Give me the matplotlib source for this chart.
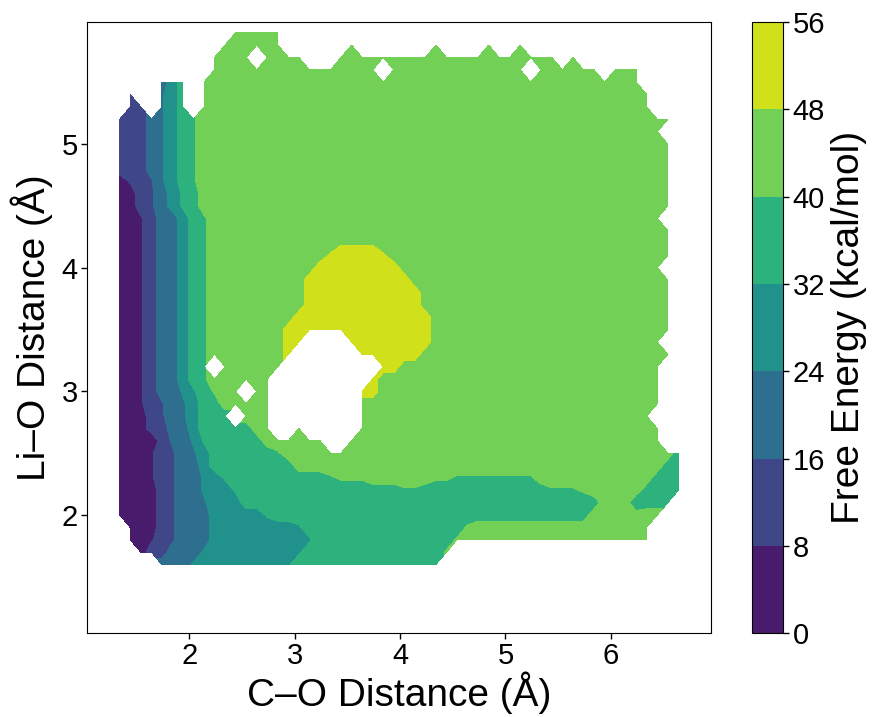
import numpy as np
import matplotlib
matplotlib.use("Agg")
import matplotlib.pyplot as plt

plt.rcParams['font.family'] = ['Liberation Sans', 'DejaVu Sans']

# Grid coordinates (C-O distance columns, Li-O distance rows, top to bottom)
co_distance = [1.34, 1.44, 1.54, 1.64, 1.74, 1.84, 1.94, 2.04, 2.14, 2.24,
               2.34, 2.44, 2.54, 2.64, 2.74, 2.84, 2.94, 3.04, 3.14, 3.24,
               3.34, 3.44, 3.54, 3.64, 3.74, 3.84, 3.94, 4.04, 4.14, 4.24,
               4.34, 4.44, 4.54, 4.64, 4.74, 4.84, 4.94, 5.04, 5.14, 5.24,
               5.34, 5.44, 5.54, 5.64, 5.74, 5.84, 5.94, 6.04, 6.14, 6.24,
               6.34, 6.44, 6.54, 6.64]
li_o_distance = [5.9, 5.8, 5.7, 5.6, 5.5, 5.4, 5.3, 5.2, 5.1, 5.0,
                 4.9, 4.8, 4.7, 4.6, 4.5, 4.4, 4.3, 4.2, 4.1, 4.0,
                 3.9, 3.8, 3.7, 3.6, 3.5, 3.4, 3.3, 3.2, 3.1, 3.0,
                 2.9, 2.8, 2.7, 2.6, 2.5, 2.4, 2.3, 2.2, 2.1, 2.0,
                 1.9, 1.8, 1.7, 1.6]

# Free energy (kcal/mol) read per grid cell; '.' = no data
energy_code = {'A': 1, '0': 4, 'a': 7, 'B': 9, '1': 12, 'b': 15,
               'C': 17, '2': 20, 'c': 23, 'D': 25, '3': 28, 'd': 31,
               'E': 33, '4': 36, 'e': 39, 'F': 41, '5': 44, 'f': 47,
               'G': 49, '6': 52, 'g': 55}

free_energy_rows = [
    ".........." ".55555...." ".........." ".........." ".........." "....",  # 5.9
    ".........." "555555...." "..5......." "5....5..5." ".........." "....",  # 5.8
    ".........5" "555.5555.." ".555555555" "5555555555" "55.5......" "....",  # 5.7
    ".........5" "5555555555" "55555.5555" "555555555." "555555.555" "....",  # 5.6
    ".1..234.55" "5555555555" "5555555555" "5555555555" "5555555555" "....",  # 5.5
    ".1..c34.55" "5555555555" "5555555555" "5555555555" "5555555555" "5...",  # 5.4
    ".11.c34.55" "5555555555" "5555555555" "5555555555" "5555555555" "5...",  # 5.3
    "1112c34e55" "5555555555" "5555555555" "5555555555" "5555555555" "555.",  # 5.2
    "1112c34e55" "5555555555" "5555555555" "5555555555" "5555555555" "55..",  # 5.1
    "1112c34e55" "5555555555" "5555555555" "5555555555" "5555555555" "555.",  # 5.0
    "1112c34e55" "5555555555" "5555555555" "5555555555" "5555555555" "555.",  # 4.9
    "1112c34e55" "5555555555" "5555555555" "5555555555" "5555555555" "555.",  # 4.8
    "0B1bc34e55" "5555555555" "5555555555" "5555555555" "5555555555" "555.",  # 4.7
    "001b23E455" "5555555555" "5555555555" "5555555555" "5555555555" "555.",  # 4.6
    "001b23E455" "5555555555" "5555555555" "5555555555" "5555555555" "555.",  # 4.5
    "00a12234e5" "5555555555" "5555555555" "5555555555" "5555555555" "55..",  # 4.4
    "00a12234e5" "5555555555" "5555555555" "5555555555" "5555555555" "555.",  # 4.3
    "00a12234e5" "5555555555" "5ffff55555" "5555555555" "5555555555" "555.",  # 4.2
    "00a12234e5" "5555555555" "G6666G5555" "5555555555" "5555555555" "555.",  # 4.1
    "00a12234e5" "5555555556" "6666666555" "5555555555" "5555555555" "55..",  # 4.0
    "00a12234e5" "5555555566" "6666666655" "5555555555" "5555555555" "555.",  # 3.9
    "00a12234e5" "5555555566" "6666666665" "5555555555" "5555555555" "555.",  # 3.8
    "00a12234e5" "5555555566" "6666666665" "5555555555" "5555555555" "555.",  # 3.7
    "00a12234e5" "5555555666" "6666666666" "5555555555" "5555555555" "555.",  # 3.6
    "00a12234e5" "5555556666" "6666666666" "5555555555" "5555555555" "555.",  # 3.5
    "00a12234e5" "55555566.." "..66666666" "5555555555" "5555555555" "55..",  # 3.4
    "00a12234e5" "5555556..." "...6666665" "5555555555" "5555555555" "555.",  # 3.3
    "00a12234e." "555555...." ".....66555" "5555555555" "5555555555" "55..",  # 3.2
    "00a12234e5" "55555....." "....655555" "5555555555" "5555555555" "55..",  # 3.1
    "00a122Dd4F" "55.55....." "...6655555" "5555555555" "5555555555" "55..",  # 3.0
    "00a1b2c344" "55555....." "...5555555" "5555555555" "5555555555" "55..",  # 2.9
    "0001b2c344" "4.555....." "...5555555" "5555555555" "5555555555" "5...",  # 2.8
    "0001122344" "44455..5.." "...5555555" "5555555555" "5555555555" "55..",  # 2.7
    "000A1C2DE4" "4444555555" "..55555555" "5555555555" "5555555555" "55..",  # 2.6
    "000a1b2c34" "44444e5555" "5555555555" "5555555555" "5555555555" "5554",  # 2.5
    "000a1b2234" "4444444555" "5555555555" "5555555555" "5555555555" "5544",  # 2.4
    "000a1b22D3" "E444444444" "eFFF555555" "FFeeeeeeee" "5555555555" "5444",  # 2.3
    "00001b22D3" "3E44444444" "4444444ee4" "4444444444" "4eeeF55555" "4444",  # 2.2
    "00001b22c3" "3344444444" "4444444444" "4444444444" "444444555E" "444.",  # 2.1
    "00001b2223" "3333E44444" "4444444444" "4444444444" "4444455555" "55..",  # 2.0
    ".0001b2223" "3333333d44" "4444444444" "444F555555" "5555555555" "5...",  # 1.9
    ".00a1b2223" "33333333d4" "4444444444" "44F5555555" "5555555555" "5...",  # 1.8
    "..011222D3" "3333333d44" "4444444444" "4F........" ".........." "....",  # 1.7
    "....222D33" "333333d444" "4444444444" "4........." ".........." "....",  # 1.6
]

levels = [0, 8, 16, 24, 32, 40, 48, 56]

Z = np.array([[energy_code.get(ch, np.nan) for ch in row]
              for row in free_energy_rows], dtype=float)

x = np.array(co_distance)
y = np.array(li_o_distance)[::-1]
Zm = np.ma.masked_invalid(Z[::-1])

fig = plt.figure(figsize=(8.72, 7.17), dpi=100)
ax = fig.add_axes([0.0998, 0.117, 0.7156, 0.852])
cs = ax.contourf(x, y, Zm, levels=levels, cmap='viridis')

ax.set_xlim(1.03, 6.95)
ax.set_ylim(1.045, 5.985)
ax.set_xticks([2, 3, 4, 5, 6])
ax.set_yticks([2, 3, 4, 5])
ax.tick_params(labelsize=21, length=4, width=1, pad=2.5)
ax.set_xlabel('C–O Distance (Å)', fontsize=28, labelpad=1)
ax.set_ylabel('Li–O Distance (Å)', fontsize=28, labelpad=6)

cax = fig.add_axes([0.8624, 0.117, 0.0356, 0.852])
cb = fig.colorbar(cs, cax=cax, ticks=levels)
cb.ax.tick_params(labelsize=21, length=4, width=1, pad=3)
cb.set_label('Free Energy (kcal/mol)', fontsize=28)

fig.savefig('out.png', dpi=100)
